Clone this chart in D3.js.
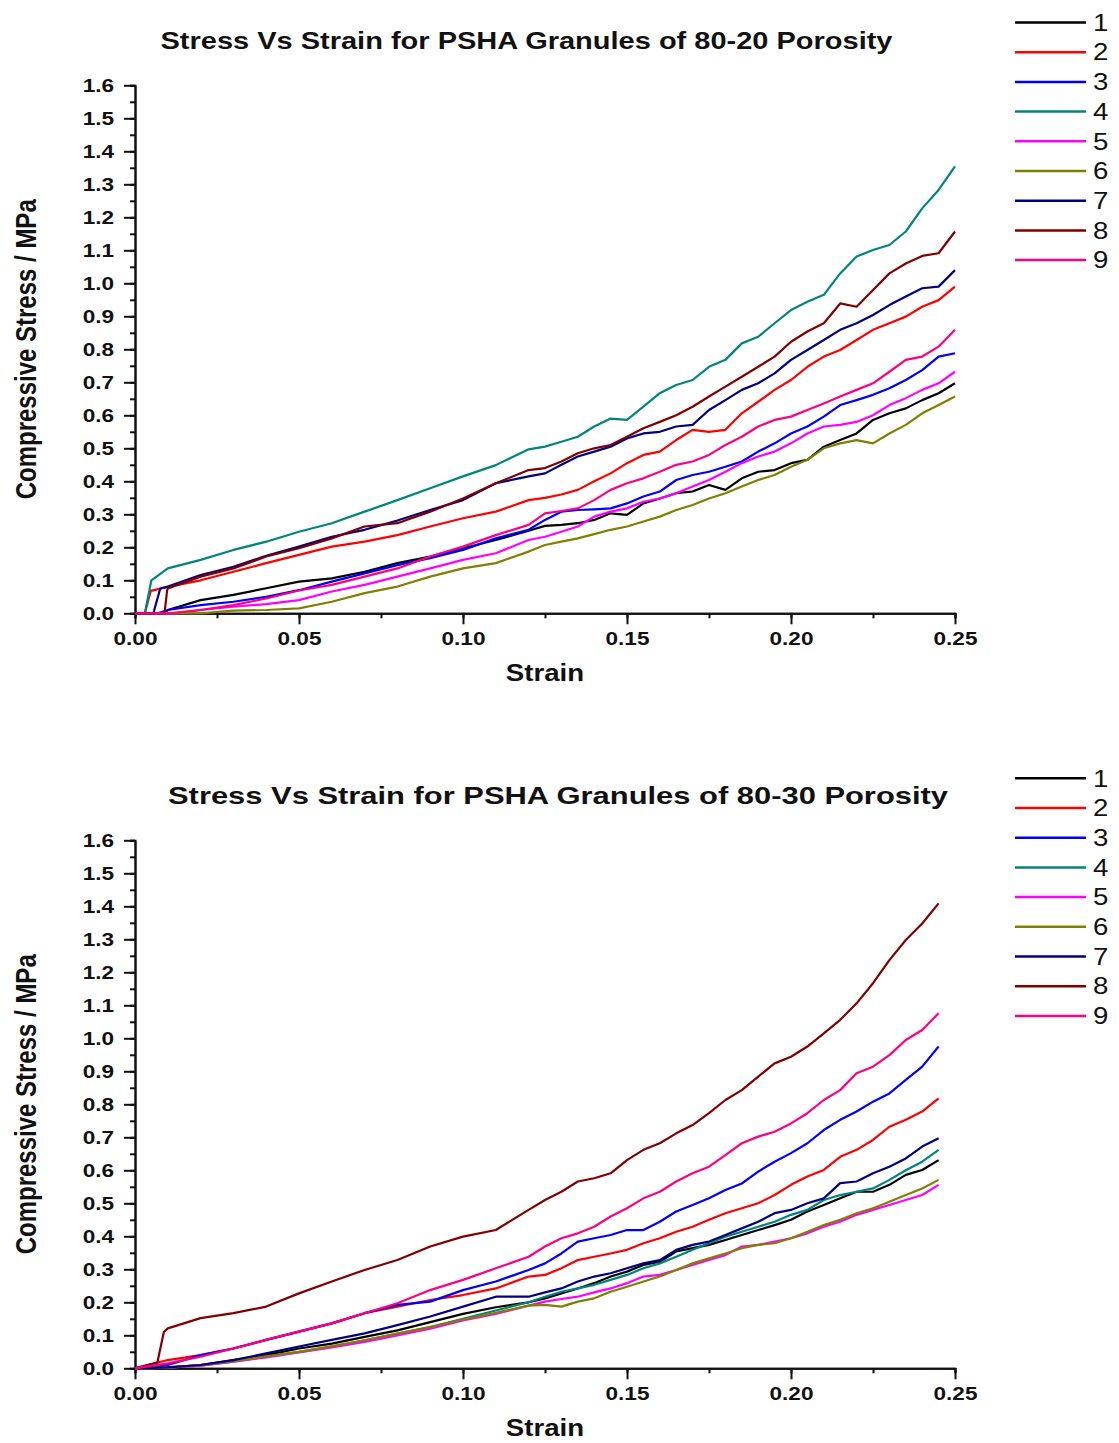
<!DOCTYPE html>
<html>
<head>
<meta charset="utf-8">
<script src="https://cdn.jsdelivr.net/npm/d3@7"></script>
<style>
  body { margin: 0; background: #fff; }
  svg { display: block; }
  text { font-family: "Liberation Sans", Arial, sans-serif; fill: #111; }
</style>
</head>
<body>
<div id="chart"></div>
<script>
// legend entries and colours (same for both plots)
var seriesNames = ["1", "2", "3", "4", "5", "6", "7", "8", "9"];
var seriesColors = ["#000000", "#ff0000", "#0000ff", "#00857d", "#ff00ff", "#808000", "#000080", "#800000", "#ff0080"];

var yTickValues = [0.0, 0.1, 0.2, 0.3, 0.4, 0.5, 0.6, 0.7, 0.8, 0.9, 1.0, 1.1, 1.2, 1.3, 1.4, 1.5, 1.6];
var xTickValues = [0.00, 0.05, 0.10, 0.15, 0.20, 0.25];

// ---- 80-20 porosity (top plot) ----
var strainTop = [0, 0.01, 0.02, 0.03, 0.04, 0.05, 0.06, 0.07, 0.08, 0.09, 0.10, 0.11, 0.12,
  0.125, 0.13, 0.135, 0.14, 0.145, 0.15, 0.155, 0.16, 0.165, 0.17, 0.175, 0.18, 0.185, 0.19,
  0.195, 0.20, 0.205, 0.21, 0.215, 0.22, 0.225, 0.23, 0.235, 0.24, 0.245, 0.25];
var top1 = [0, .01, .04, .056, .076, .096, .106, .126, .152, .172, .197, .222, .25, .265, .268, .273, .283, .303, .298, .333, .348, .364, .369, .389, .374, .409, .429, .434, .455, .465, .505, .525, .545, .586, .606, .621, .646, .667, .697];
var top2 = [0, .08, .10, .126, .152, .177, .202, .217, .237, .263, .288, .308, .343, .35, .36, .374, .40, .424, .455, .48, .49, .525, .556, .55, .556, .606, .641, .677, .707, .747, .778, .798, .828, .859, .879, .899, .929, .949, .99];
var top3 = [0, .01, .025, .035, .05, .07, .096, .121, .146, .167, .192, .227, .253, .283, .308, .313, .315, .318, .333, .354, .369, .404, .419, .429, .444, .46, .49, .515, .545, .566, .596, .631, .646, .662, .682, .707, .737, .778, .788];
var top4 = [0, .136, .162, .192, .217, .247, .273, .308, .343, .379, .415, .449, .497, .505, .52, .535, .566, .59, .586, .626, .667, .692, .707, .747, .768, .818, .838, .879, .919, .944, .965, 1.03, 1.081, 1.101, 1.116, 1.157, 1.227, 1.283, 1.354];
var top5 = [0, 0, .01, .02, .028, .04, .066, .086, .111, .136, .162, .182, .222, .232, .247, .263, .293, .308, .318, .338, .348, .364, .384, .404, .429, .455, .475, .49, .515, .545, .566, .571, .58, .60, .631, .652, .677, .697, .732];
var top6 = [0, 0, 0, .008, .01, .015, .035, .061, .081, .111, .136, .152, .187, .207, .217, .227, .24, .253, .263, .278, .293, .313, .328, .348, .364, .384, .404, .419, .444, .465, .50, .515, .525, .515, .545, .571, .606, .631, .657];
var top7 = [0, .081, .116, .141, .174, .202, .232, .253, .281, .313, .343, .394, .415, .424, .45, .475, .49, .505, .53, .545, .55, .566, .571, .616, .646, .677, .697, .727, .768, .798, .828, .859, .879, .904, .934, .96, .985, .99, 1.04];
var top8 = [0, .075, .111, .136, .172, .197, .227, .263, .273, .308, .348, .394, .434, .44, .46, .485, .50, .51, .535, .561, .58, .60, .626, .657, .687, .717, .747, .778, .823, .854, .879, .939, .929, .98, 1.03, 1.06, 1.083, 1.091, 1.157];
var top9 = [0, 0, .01, .025, .045, .069, .086, .111, .136, .172, .202, .237, .268, .303, .31, .318, .343, .374, .394, .409, .429, .45, .46, .48, .51, .535, .566, .586, .596, .616, .636, .657, .677, .697, .732, .768, .778, .808, .859];
// where each curve leaves zero, and the top of the initial jump
var topOnsetStrain = [0.009, 0.003, 0.007, 0.003, 0.012, 0.02, 0.0056, 0.009, 0.01];
var topOnsetStress = [0, 0, 0, 0, 0, 0, 0, 0, 0];
var topKneeStrain = [null, 0.0048, null, 0.005, null, null, 0.0077, 0.0098, null];
var topKneeStress = [null, 0.068, null, 0.10, null, null, 0.075, 0.07, null];

// ---- 80-30 porosity (bottom plot) ----
var strainBottom = [0, 0.01, 0.02, 0.03, 0.04, 0.05, 0.06, 0.07, 0.08, 0.09, 0.10, 0.11, 0.12,
  0.125, 0.13, 0.135, 0.14, 0.145, 0.15, 0.155, 0.16, 0.165, 0.17, 0.175, 0.18, 0.185, 0.19,
  0.195, 0.20, 0.205, 0.21, 0.215, 0.22, 0.225, 0.23, 0.235, 0.24, 0.245];
var bot1 = [0, .003, .01, .025, .04, .06, .075, .095, .115, .14, .165, .185, .20, .212, .227, .242, .258, .278, .293, .313, .323, .354, .364, .374, .389, .404, .419, .434, .45, .475, .495, .515, .535, .535, .556, .586, .601, .631];
var bot2 = [0, .025, .04, .06, .086, .111, .136, .167, .187, .207, .222, .242, .278, .283, .303, .328, .338, .348, .359, .379, .394, .414, .429, .45, .47, .485, .50, .525, .556, .581, .601, .641, .662, .692, .732, .753, .778, .818];
var bot3 = [0, .01, .04, .06, .086, .111, .136, .167, .192, .202, .237, .263, .298, .318, .348, .384, .394, .404, .419, .419, .444, .475, .495, .515, .54, .56, .596, .626, .652, .682, .722, .753, .778, .808, .833, .874, .914, .975];
var bot4 = [0, .002, .008, .02, .035, .05, .065, .085, .105, .125, .15, .175, .20, .217, .232, .242, .253, .268, .283, .303, .318, .338, .359, .379, .399, .414, .429, .444, .465, .48, .51, .525, .535, .545, .571, .60, .626, .662];
var bot5 = [0, .002, .008, .02, .033, .048, .063, .08, .10, .12, .145, .165, .19, .202, .21, .217, .23, .242, .258, .278, .283, .298, .313, .328, .343, .369, .374, .384, .394, .409, .429, .444, .465, .48, .495, .51, .525, .556];
var bot6 = [0, .002, .01, .022, .036, .05, .067, .085, .105, .125, .148, .168, .19, .192, .187, .202, .212, .232, .247, .263, .278, .298, .318, .333, .348, .364, .374, .379, .394, .414, .434, .45, .47, .485, .505, .525, .545, .571];
var bot7 = [0, .003, .01, .025, .045, .066, .086, .106, .131, .157, .187, .217, .217, .23, .242, .263, .278, .288, .303, .318, .328, .359, .374, .384, .404, .424, .444, .47, .48, .50, .515, .561, .566, .591, .611, .636, .672, .697];
var bot8 = [0, .121, .152, .167, .187, .227, .263, .298, .328, .369, .399, .419, .48, .51, .535, .566, .576, .591, .631, .662, .682, .712, .737, .773, .813, .843, .884, .924, .944, .975, 1.015, 1.056, 1.106, 1.167, 1.237, 1.298, 1.348, 1.409];
var bot9 = [0, .015, .035, .06, .086, .111, .136, .167, .197, .237, .268, .303, .338, .369, .394, .409, .429, .46, .485, .515, .535, .566, .591, .611, .646, .682, .702, .717, .742, .773, .813, .843, .894, .914, .949, .995, 1.025, 1.076];
var botOnsetStrain = [null, null, null, null, null, null, null, 0.0068, null];
var botOnsetStress = [null, null, null, null, null, null, null, 0.017, null];
var botKneeStrain = [null, null, null, null, null, null, null, 0.0088, null];
var botKneeStress = [null, null, null, null, null, null, null, 0.11, null];

var W = 1119, H = 1443;
var svg = d3.select("#chart").append("svg").attr("width", W).attr("height", H);
svg.append("rect").attr("width", W).attr("height", H).attr("fill", "white");

// the picture is a bit wider than tall, so text is stretched sideways
function stretch(sel, k) {
  sel.each(function() {
    var w = this.getComputedTextLength();
    d3.select(this).attr("textLength", w * k).attr("lengthAdjust", "spacingAndGlyphs");
  });
}

function drawPanel(props) {
  var g = svg.append("g");
  var x = d3.scaleLinear().domain([0, 0.25]).range([135, 955]);
  var y = d3.scaleLinear().domain([0, 1.6]).range([props.y0, props.y0 - 528]);

  // minor ticks first, then the labelled ones
  g.append("g").attr("transform", "translate(0," + props.y0 + ")")
    .call(d3.axisBottom(x).tickValues(d3.range(0, 0.2501, 0.025)).tickSize(5).tickFormat(""));
  g.append("g").attr("transform", "translate(135,0)")
    .call(d3.axisLeft(y).tickValues(d3.range(0, 1.6001, 0.05)).tickSize(5).tickFormat(""));

  g.append("g").attr("class", "x-axis").attr("transform", "translate(0," + props.y0 + ")")
    .call(d3.axisBottom(x).tickValues(xTickValues).tickSize(11).tickSizeOuter(0).tickPadding(8).tickFormat(d3.format(".2f")));
  g.append("g").attr("class", "y-axis").attr("transform", "translate(135,0)")
    .call(d3.axisLeft(y).tickValues(yTickValues).tickSize(11).tickSizeOuter(0).tickPadding(10).tickFormat(d3.format(".1f")));

  g.selectAll(".domain, .tick line").attr("stroke", "#111").attr("stroke-width", 2);
  g.selectAll(".tick text").attr("font-size", 18.5).attr("font-weight", "bold").attr("fill", "#111")
    .style("font-family", '"Liberation Sans", Arial, sans-serif');
  stretch(g.selectAll(".tick text"), 1.22);

  // curves
  var line = d3.line().x(function(d) { return x(d[0]); }).y(function(d) { return y(d[1]); });
  props.series.forEach(function(vals, i) {
    var pts = [[0, 0]];
    var start = 0;
    if (props.onsetStrain[i] != null) { pts.push([props.onsetStrain[i], props.onsetStress[i]]); start = props.onsetStrain[i]; }
    if (props.kneeStrain[i] != null) { pts.push([props.kneeStrain[i], props.kneeStress[i]]); start = props.kneeStrain[i]; }
    props.strain.forEach(function(s, j) { if (s > start) pts.push([s, vals[j]]); });
    g.append("path").datum(pts)
      .attr("fill", "none")
      .attr("stroke", seriesColors[i])
      .attr("stroke-width", 2.2)
      .attr("stroke-linejoin", "round")
      .attr("d", line);
  });

  // title and axis titles
  g.append("text").attr("x", props.titleX).attr("y", props.y0 - 564)
    .attr("text-anchor", "middle").attr("font-size", 24).attr("font-weight", "bold")
    .attr("textLength", props.titleWidth).attr("lengthAdjust", "spacingAndGlyphs")
    .text(props.title);
  var xl = g.append("text").attr("x", 545).attr("y", props.y0 + 68)
    .attr("text-anchor", "middle").attr("font-size", 23).attr("font-weight", "bold")
    .text("Strain");
  stretch(xl, 1.2);
  g.append("text")
    .attr("transform", "translate(36," + (props.y0 - 264) + ") scale(1.2,1) rotate(-90)")
    .attr("text-anchor", "middle").attr("font-size", 24).attr("font-weight", "bold")
    .text("Compressive Stress / MPa");

  // legend
  var leg = g.selectAll(".legend").data(seriesNames).enter().append("g")
    .attr("class", "legend")
    .attr("transform", function(d, i) { return "translate(0," + (props.legendTop + i * 29.7) + ")"; });
  leg.append("line").attr("x1", 1015).attr("x2", 1086)
    .attr("stroke", function(d, i) { return seriesColors[i]; }).attr("stroke-width", 2.5);
  var lt = leg.append("text").attr("x", 1093).attr("dy", "0.36em").attr("font-size", 23)
    .text(function(d) { return d; });
  stretch(lt, 1.2);
}

drawPanel({
  y0: 613.3, title: "Stress Vs Strain for PSHA Granules of 80-20 Porosity", titleX: 526.5, titleWidth: 732,
  legendTop: 22.5, strain: strainTop,
  series: [top1, top2, top3, top4, top5, top6, top7, top8, top9],
  onsetStrain: topOnsetStrain, onsetStress: topOnsetStress, kneeStrain: topKneeStrain, kneeStress: topKneeStress
});
drawPanel({
  y0: 1368.3, title: "Stress Vs Strain for PSHA Granules of 80-30 Porosity", titleX: 558, titleWidth: 780,
  legendTop: 778.3, strain: strainBottom,
  series: [bot1, bot2, bot3, bot4, bot5, bot6, bot7, bot8, bot9],
  onsetStrain: botOnsetStrain, onsetStress: botOnsetStress, kneeStrain: botKneeStrain, kneeStress: botKneeStress
});
</script>
</body>
</html>
